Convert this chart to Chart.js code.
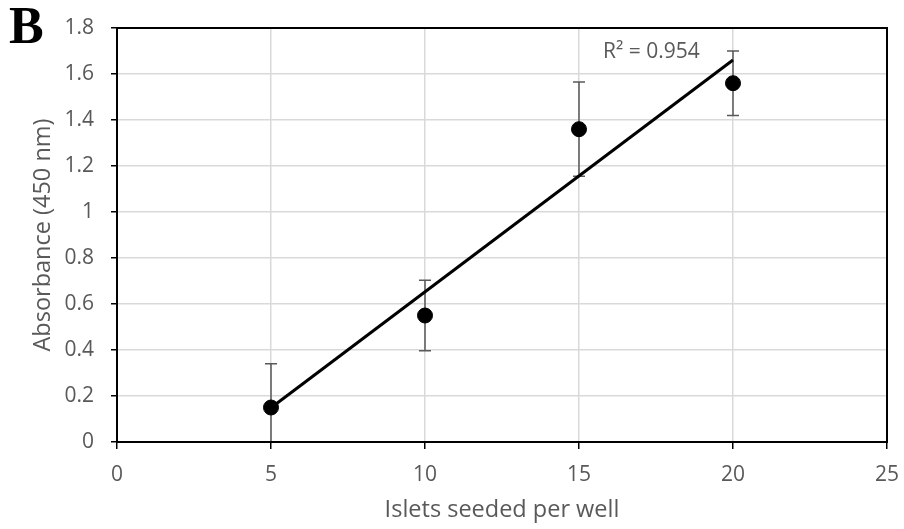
<!DOCTYPE html>
<html>
<head>
<meta charset="utf-8">
<script src="https://cdn.jsdelivr.net/npm/chart.js@4.4.1/dist/chart.umd.min.js"></script>
<style>
    html, body { margin: 0; padding: 0; background: #fff; }
    #wrap { position: relative; width: 904px; height: 529px; }
    #panel {
        position: absolute; left: 9px; top: -4px;
        font: bold 52px "Liberation Serif", "DejaVu Serif", serif; color: #000;
    }
</style>
</head>
<body>
<div id="wrap">
    <canvas id="chartAbsorbance" width="904" height="529"></canvas>
    <div id="panel">B</div>
</div>
<script>
// Data
const islets = [5, 10, 15, 20];
const absorbance = [0.15, 0.55, 1.36, 1.56];
const absorbanceErr = [0.19, 0.153, 0.205, 0.14];

// Linear trendline endpoints (as drawn in the figure)
const trendX = [5, 20];
const trendY = [0.149, 1.661];
const rSquared = "R² = 0.954";

const tickGray = "#595959";
const gridGray = "#d9d9d9";

// Error bars + frame + R² label
const errorBarPlugin = {
    id: "errorBars",
    beforeDatasetsDraw(chart) {
        const { ctx, chartArea, scales } = chart;
        ctx.save();
        ctx.beginPath();
        ctx.rect(chartArea.left, chartArea.top, chartArea.right - chartArea.left, chartArea.bottom - chartArea.top);
        ctx.clip();
        ctx.strokeStyle = tickGray;
        ctx.lineWidth = 1.5;
        islets.forEach(function (x, i) {
            const px = scales.x.getPixelForValue(x);
            const yTop = scales.y.getPixelForValue(absorbance[i] + absorbanceErr[i]);
            const yBot = scales.y.getPixelForValue(absorbance[i] - absorbanceErr[i]);
            ctx.beginPath();
            ctx.moveTo(px, yTop);
            ctx.lineTo(px, yBot);
            ctx.moveTo(px - 6, yTop);
            ctx.lineTo(px + 6, yTop);
            ctx.moveTo(px - 6, yBot);
            ctx.lineTo(px + 6, yBot);
            ctx.stroke();
        });
        ctx.restore();
    },
    afterDraw(chart) {
        const { ctx, chartArea, scales } = chart;
        ctx.save();
        ctx.strokeStyle = "#000";
        ctx.lineWidth = 2;
        ctx.strokeRect(chartArea.left, chartArea.top, chartArea.right - chartArea.left, chartArea.bottom - chartArea.top);
        ctx.fillStyle = tickGray;
        ctx.font = '21px "Open Sans", sans-serif';
        ctx.textAlign = "center";
        ctx.textBaseline = "middle";
        ctx.fillText(rSquared, scales.x.getPixelForValue(17.35), scales.y.getPixelForValue(1.695));
        ctx.restore();
    },
};

new Chart(document.getElementById("chartAbsorbance"), {
    type: "scatter",
    data: {
        datasets: [
            {
                label: "Absorbance",
                data: islets.map((x, i) => ({ x: x, y: absorbance[i] })),
                backgroundColor: "#000",
                borderColor: "#000",
                pointRadius: 7.5,
                order: 1,
            },
            {
                label: "Trend",
                data: trendX.map((x, i) => ({ x: x, y: trendY[i] })),
                showLine: true,
                borderColor: "#000",
                borderWidth: 3,
                pointRadius: 0,
                order: 2,
            },
        ],
    },
    options: {
        responsive: false,
        animation: false,
        layout: { padding: { left: 0, top: 28, right: 17, bottom: 0 } },
        plugins: {
            legend: { display: false },
            tooltip: { enabled: false },
        },
        scales: {
            x: {
                type: "linear",
                min: 0,
                max: 25,
                afterFit: (scale) => {
                    scale.height = 87;
                    scale.paddingLeft = 0;
                    scale.paddingRight = 0;
                },
                ticks: {
                    stepSize: 5,
                    color: tickGray,
                    padding: 13,
                    font: { family: "Open Sans", size: 21 },
                },
                grid: { color: gridGray, lineWidth: 1.5, tickColor: "#000", tickLength: 7 },
                border: { color: "#000", width: 2 },
                title: {
                    display: true,
                    text: "Islets seeded per well",
                    color: tickGray,
                    padding: { top: 5, bottom: 5 },
                    font: { family: "Open Sans", size: 23.5 },
                },
            },
            y: {
                type: "linear",
                min: 0,
                max: 1.8,
                afterFit: (scale) => {
                    scale.width = 117;
                    scale.paddingTop = 0;
                    scale.paddingBottom = 0;
                },
                ticks: {
                    stepSize: 0.2,
                    color: tickGray,
                    padding: 17,
                    font: { family: "Open Sans", size: 21 },
                    callback: (v) => Math.round(v * 10) / 10,
                },
                grid: { color: gridGray, lineWidth: 1.5, tickColor: "#000", tickLength: 6 },
                border: { color: "#000", width: 2 },
                title: {
                    display: true,
                    text: "Absorbance (450 nm)",
                    color: tickGray,
                    padding: { top: 29, bottom: 29 },
                    font: { family: "Open Sans", size: 23.5 },
                },
            },
        },
    },
    plugins: [errorBarPlugin],
});
</script>
</body>
</html>
